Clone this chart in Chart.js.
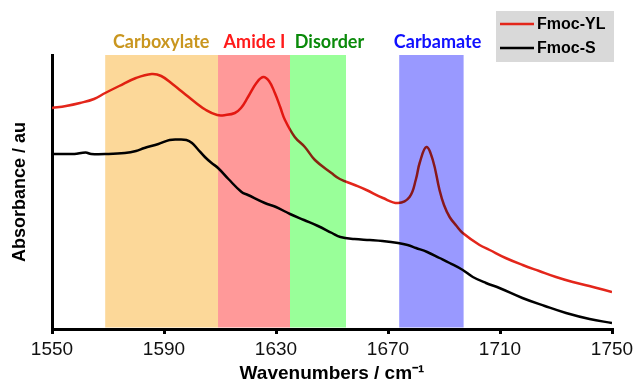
<!DOCTYPE html>
<html>
<head>
<meta charset="utf-8">
<script src="https://cdn.jsdelivr.net/npm/chart.js@4.4.1/dist/chart.umd.min.js"></script>
<style>
  html, body { margin: 0; padding: 0; background: #ffffff; }
  #wrap { width: 635px; height: 386px; }
</style>
</head>
<body>
<div id="wrap"><canvas id="ir-chart"></canvas></div>
<script>
const xTicks = [1550, 1590, 1630, 1670, 1710, 1750];

const ylWave = [1550, 1555, 1560, 1565, 1569, 1574, 1580, 1585.6, 1589, 1593, 1597, 1601, 1605, 1609, 1612, 1615.3, 1617.5, 1620, 1623, 1625.4, 1627.5, 1629.6, 1631.5, 1633.2, 1636.7, 1640.3, 1643.9, 1649.8, 1652.8, 1658.1, 1662.3, 1668.2, 1673.6, 1677.7, 1680, 1681.3, 1683.7, 1686, 1688.4, 1690, 1692, 1694.5, 1696.7, 1702.7, 1706.3, 1712, 1718.1, 1724, 1730, 1736, 1741.9, 1750];
const ylAbs = [221, 223, 226, 230, 236, 243, 251, 255, 253, 245, 236, 227, 219, 214, 214, 216, 221, 232, 246, 252, 248, 236, 222, 209, 192, 182, 169, 156, 150, 144, 139, 131, 126, 132, 150, 166, 182, 169, 139, 124, 112, 103, 96, 84, 79, 71, 64, 58, 52, 47, 43, 37];

const sWave = [1550, 1555, 1558, 1562, 1564, 1570, 1576, 1580, 1583, 1588, 1592, 1595, 1598, 1600, 1602, 1604.6, 1607, 1609.3, 1613, 1617.7, 1620, 1626, 1630, 1635, 1640, 1645, 1650, 1653, 1658, 1663.5, 1668, 1673.6, 1677, 1680, 1684, 1688.4, 1692, 1696.7, 1700.3, 1705, 1709.8, 1718, 1726, 1733.6, 1742, 1750];
const sAbs = [175, 175, 175, 176.5, 175, 175, 176, 178, 181, 185, 189, 189.5, 189, 186, 180, 172, 166, 161, 150, 137, 134, 126, 122, 115, 109, 103, 96, 92, 90, 89, 88, 86, 84, 81, 77, 71, 66, 59, 52, 46, 41, 31, 23, 16, 10, 6];

const bandNames = ["Carboxylate", "Amide I", "Disorder", "Carbamate"];
const bandStart = [1569, 1609.3, 1635, 1674];
const bandEnd = [1609.3, 1635, 1655, 1697];
const bandLabelAt = [1589, 1622.3, 1649.1, 1687.7];
const bandFill = ["#fcd899", "#ff9999", "#99ff99", "#9999ff"];
const bandText = ["#c9961f", "#ff1a1a", "#0a8a0a", "#1010ff"];

const seriesNames = ["Fmoc-YL", "Fmoc-S"];
const seriesColors = ["#e3261b", "#000000"];

const toPoints = (xs, ys) => xs.map((x, i) => ({ x: x, y: ys[i] }));

const bandPlugin = {
  id: "bands",
  beforeDraw(chart) {
    const ctx = chart.ctx;
    ctx.save();
    ctx.fillStyle = "#ffffff";
    ctx.fillRect(0, 0, chart.width, chart.height);
    ctx.restore();
  },
  afterDatasetsDraw(chart) {
    const ctx = chart.ctx;
    const xs = chart.scales.x;
    const area = chart.chartArea;
    // bands sit on top of the spectra, multiplied like the original
    ctx.save();
    ctx.globalCompositeOperation = "multiply";
    for (let i = 0; i < bandNames.length; i++) {
      const x0 = xs.getPixelForValue(bandStart[i]);
      const x1 = xs.getPixelForValue(bandEnd[i]);
      ctx.fillStyle = bandFill[i];
      ctx.fillRect(x0, area.top, x1 - x0, area.bottom - area.top - 1.5);
    }
    ctx.restore();

    ctx.save();
    ctx.font = "bold 18px Lato";
    ctx.textAlign = "center";
    ctx.textBaseline = "middle";
    for (let i = 0; i < bandNames.length; i++) {
      ctx.fillStyle = bandText[i];
      ctx.fillText(bandNames[i], xs.getPixelForValue(bandLabelAt[i]), 42);
    }
    ctx.restore();
  },
  afterDraw(chart) {
    const ctx = chart.ctx;
    ctx.save();
    ctx.fillStyle = "#d9d9d9";
    ctx.fillRect(496, 11, 118, 51);
    ctx.font = "bold 16px 'Liberation Sans'";
    ctx.textBaseline = "middle";
    for (let i = 0; i < seriesNames.length; i++) {
      const y = 24 + i * 24;
      ctx.strokeStyle = seriesColors[i];
      ctx.lineWidth = 2.5;
      ctx.beginPath();
      ctx.moveTo(500, y);
      ctx.lineTo(534, y);
      ctx.stroke();
      ctx.fillStyle = "#000000";
      ctx.fillText(seriesNames[i], 537, y + 1);
    }
    ctx.restore();
  },
};

const ctx = document.getElementById("ir-chart").getContext("2d");

new Chart(ctx, {
  type: "line",
  data: {
    datasets: [
      {
        label: seriesNames[0],
        data: toPoints(ylWave, ylAbs),
        borderColor: seriesColors[0],
        borderWidth: 2.5,
        pointRadius: 0,
        tension: 0.4,
      },
      {
        label: seriesNames[1],
        data: toPoints(sWave, sAbs),
        borderColor: seriesColors[1],
        borderWidth: 2.5,
        pointRadius: 0,
        tension: 0.4,
      },
    ],
  },
  options: {
    responsive: true,
    maintainAspectRatio: false,
    animation: false,
    layout: {
      padding: { top: 55, right: 23, left: 0, bottom: 0 },
    },
    plugins: {
      legend: { display: false },
      tooltip: { enabled: false },
    },
    scales: {
      x: {
        type: "linear",
        min: 1550,
        max: 1750,
        afterBuildTicks: (scale) => {
          scale.ticks = xTicks.map((v) => ({ value: v }));
        },
        afterFit: (scale) => {
          scale.height = 57;
          scale.paddingLeft = 0;
          scale.paddingRight = 0;
        },
        border: { display: true, color: "#000000", width: 3 },
        grid: {
          display: true,
          drawOnChartArea: false,
          drawTicks: true,
          tickLength: 5,
          color: "#000000",
          lineWidth: 3,
        },
        ticks: {
          color: "#111111",
          padding: 4,
          maxRotation: 0,
          autoSkip: false,
          callback: (value) => String(value),
          font: { size: 19, family: "Liberation Sans" },
        },
        title: {
          display: true,
          text: "Wavenumbers / cm\u207B\u00B9",
          color: "#000000",
          padding: { top: 0, bottom: 1 },
          font: { size: 19, weight: "bold", family: "Liberation Sans" },
        },
      },
      y: {
        type: "linear",
        min: 0,
        max: 274,
        afterFit: (scale) => {
          scale.width = 52;
        },
        border: { display: true, color: "#000000", width: 3 },
        grid: { display: false },
        ticks: { display: false },
        title: {
          display: true,
          text: "Absorbance / au",
          color: "#000000",
          padding: { top: 9, bottom: 0 },
          font: { size: 18, weight: "bold", family: "Liberation Sans" },
        },
      },
    },
  },
  plugins: [bandPlugin],
});
</script>
</body>
</html>
